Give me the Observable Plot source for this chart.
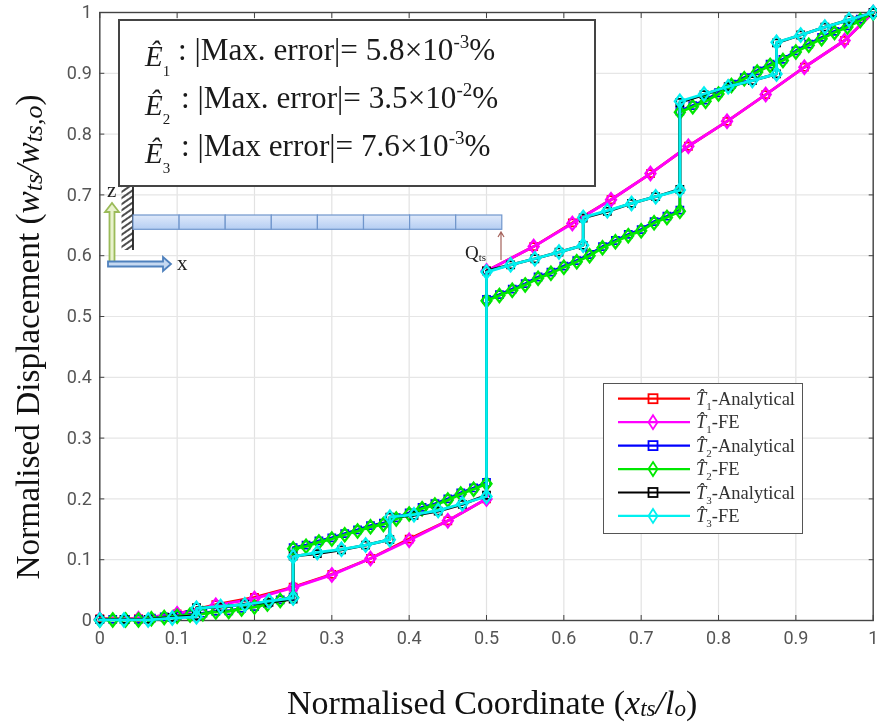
<!DOCTYPE html>
<html><head><meta charset="utf-8">
<script src="https://cdn.jsdelivr.net/npm/d3@7"></script>
<script src="https://cdn.jsdelivr.net/npm/@observablehq/plot@0.6"></script>
<style>
html,body{margin:0;padding:0;background:#fff;width:877px;height:726px;overflow:hidden}
#wrap{position:relative;width:877px;height:726px;overflow:hidden;filter:blur(.45px)}
.serif{font-family:"Liberation Serif",serif;color:#1a1a1a}
.abs{position:absolute;white-space:nowrap}
#errbox{left:118px;top:19px;width:474px;height:163.5px;border:2px solid #444;background:#fff}
#legend{left:603px;top:382.5px;width:198px;height:149px;border:1.5px solid #555;background:#fff}
.eq{font-size:31.2px;line-height:36px}
.eq sup{font-size:19px;line-height:0;vertical-align:baseline;position:relative;top:-12px}
.hat{font-style:italic;font-size:29px}
.hat sub{font-size:15px;font-style:normal;line-height:0;position:relative;top:3px;vertical-align:sub}
.lg{font-size:18.5px;line-height:20px;color:#333}
.lg sub{font-size:11px;line-height:0}
i sub{font-size:.78em;line-height:0;vertical-align:-0.1em}
.xl i sub{font-size:.68em}
</style></head><body><div id="wrap"></div>
<script>
const xT1 = [0,.05,.1,.15,.2,.25,.3,.35,.4,.45,.5,.5,.561,.611,.661,.712,.761,.811,.861,.911,.963,1];
const yT1Analytical = [.003,.003,.011,.026,.038,.055,.076,.102,.134,.164,.2,.575,.615,.654,.692,.735,.78,.821,.865,.91,.954,1];
const yT1FE = [.002,.003,.011,.025,.036,.054,.075,.102,.132,.164,.2,.575,.615,.653,.692,.735,.78,.821,.865,.91,.954,1];
const xT2 = [0,.0167,.0333,.05,.0667,.0833,.1,.1167,.1333,.15,.1667,.1833,.2,.2167,.2333,.25,
 .25,.2667,.2833,.3,.3167,.3333,.35,.3667,.3833,.4,.4167,.4333,.45,.4667,.4833,.5,
 .5,.5167,.5333,.55,.5667,.5833,.6,.6167,.6333,.65,.6667,.6833,.7,.7167,.7333,.75,
 .75,.7667,.7833,.8,.8167,.8333,.85,.8667,.8833,.9,.9167,.9333,.95,.9667,.9833,1];
const yT2Analytical = [.002,.002,.002,.002,.004,.006,.008,.010,.012,.015,.016,.02,.023,.028,.034,.039,
 .12,.124,.131,.136,.143,.149,.156,.16,.169,.177,.186,.192,.2,.21,.218,.227,
 .528,.536,.545,.554,.565,.573,.583,.592,.602,.615,.625,.635,.643,.656,.665,.675,
 .838,.847,.856,.868,.882,.893,.904,.915,.923,.937,.948,.959,.969,.978,.989,1];
const yT2FE = [.001,.001,.001,.001,.003,.005,.007,.009,.011,.014,.015,.019,.022,.027,.033,.038,
 .118,.122,.129,.134,.141,.147,.154,.158,.167,.175,.184,.19,.198,.208,.216,.225,
 .526,.5345,.543,.552,.563,.571,.581,.59,.6,.613,.623,.633,.641,.654,.663,.673,
 .836,.845,.854,.866,.88,.891,.902,.913,.921,.935,.946,.957,.967,.976,.987,.999];
const xT3 = [0,.03125,.0625,.09375,.125,.125,.15625,.1875,.21875,.25,.25,.28125,.3125,.34375,.375,.375,.40625,.4375,.46875,.5,
 .5,.53125,.5625,.59375,.625,.625,.65625,.6875,.71875,.75,.75,.78125,.8125,.84375,.875,.875,.90625,.9375,.96875,1];
const yT3Analytical = [.002,.002,.002,.005,.008,.021,.022,.027,.03,.035,.106,.11,.116,.124,.133,.17,.173,.18,.191,.206,
 .575,.585,.595,.606,.617,.662,.673,.686,.697,.709,.852,.865,.878,.888,.899,.95,.963,.976,.988,1];
const yT3FE = [.001,.001,.001,.004,.006,.02,.023,.026,.032,.037,.105,.112,.117,.124,.133,.17,.174,.181,.192,.204,
 .573,.585,.595,.606,.617,.663,.674,.686,.697,.708,.854,.866,.878,.888,.899,.951,.963,.976,.988,1];
const xTicks = [0,.1,.2,.3,.4,.5,.6,.7,.8,.9,1];
const yTicks = [0,.1,.2,.3,.4,.5,.6,.7,.8,.9,1];
const seriesList = [
 {name:"T1-Analytical",xs:xT1,ys:yT1Analytical,color:"#ff0000",symbol:"square"},
 {name:"T1-FE",xs:xT1,ys:yT1FE,color:"#ff00ff",symbol:"diamond"},
 {name:"T2-Analytical",xs:xT2,ys:yT2Analytical,color:"#0000ff",symbol:"square"},
 {name:"T2-FE",xs:xT2,ys:yT2FE,color:"#00e800",symbol:"diamond"},
 {name:"T3-Analytical",xs:xT3,ys:yT3Analytical,color:"#000000",symbol:"square"},
 {name:"T3-FE",xs:xT3,ys:yT3FE,color:"#00f0f0",symbol:"diamond"}
];
const tallDiamond = {draw(c,size){const r=Math.sqrt(size/Math.PI);const w=r*.76;c.moveTo(0,-r);c.lineTo(w,0);c.lineTo(0,r);c.lineTo(-w,0);c.closePath();}};
const fmt = d => String(d);
const marks = [
 Plot.gridX(xTicks,{stroke:"#e2e2e2",strokeOpacity:1,strokeWidth:1.2}),
 Plot.gridY(yTicks,{stroke:"#e6e6e6",strokeOpacity:1,strokeWidth:1.2}),
 Plot.axisX(xTicks,{anchor:"bottom",tickSize:-5,tickPadding:16,tickFormat:fmt,label:null,fontSize:18,stroke:"#444",color:"#555"}),
 Plot.axisX(xTicks,{anchor:"top",tickSize:-5,tickFormat:()=>"",label:null,stroke:"#444"}),
 Plot.axisY(yTicks,{anchor:"left",tickSize:-5,tickPadding:13,tickFormat:fmt,label:null,fontSize:18,stroke:"#444",color:"#555"}),
 Plot.axisY(yTicks,{anchor:"right",tickSize:-5,tickFormat:()=>"",label:null,stroke:"#444"}),
 Plot.frame({stroke:"#444",strokeWidth:1.4})
];
for(const s of seriesList){
 const rows = s.xs.map((x,i)=>({x,y:s.ys[i]}));
 marks.push(Plot.line(rows,{x:"x",y:"y",stroke:s.color,strokeWidth:2.8,curve:"linear",clip:false}));
 marks.push(Plot.dot(rows,{x:"x",y:"y",symbol:s.symbol==="square"?"square":tallDiamond,r:s.symbol==="square"?4:6.6,fill:"none",stroke:s.color,strokeWidth:s.symbol==="square"?1.7:2.3,clip:false}));
}
const chart = Plot.plot({
 width:877,height:726,marginLeft:99.3,marginRight:4.3,marginTop:12,marginBottom:106,
 x:{domain:[0,1],axis:null},y:{domain:[0,1],axis:null},
 style:{background:"transparent",fontFamily:"Roboto, 'Liberation Sans', sans-serif",overflow:"visible"},
 marks
});
chart.style.position="absolute";chart.style.left="0";chart.style.top="0";
const wrap=document.getElementById("wrap");
wrap.appendChild(chart);
const html=`
<div class="abs" id="errbox"></div>
<div class="abs serif eq" style="left:145px;top:38px"><span class="hat">&#202;<sub>1</sub></span></div>
<div class="abs serif eq" style="left:178px;top:31.5px">: |Max. error|= 5.8×10<sup>-3</sup>%</div>
<div class="abs serif eq" style="left:145px;top:86.5px"><span class="hat">&#202;<sub>2</sub></span></div>
<div class="abs serif eq" style="left:181px;top:80px">: |Max. error|= 3.5×10<sup>-2</sup>%</div>
<div class="abs serif eq" style="left:145px;top:135px"><span class="hat">&#202;<sub>3</sub></span></div>
<div class="abs serif eq" style="left:181px;top:128px">: |Max error|= 7.6×10<sup>-3</sup>%</div>
<svg class="abs" style="left:0;top:0;overflow:visible" width="877" height="726" font-family="Liberation Serif">
 <defs>
  <linearGradient id="bm" x1="0" y1="0" x2="0" y2="1"><stop offset="0" stop-color="#dfe9fa"/><stop offset="1" stop-color="#b4cdf2"/></linearGradient>
  <pattern id="hatch" width="5" height="5" patternUnits="userSpaceOnUse" patternTransform="rotate(-35)"><line x1="0" y1="2" x2="5" y2="2" stroke="#444" stroke-width="1.9"/></pattern>
 </defs>
 <rect x="121.5" y="187" width="11.5" height="63" fill="url(#hatch)"/>
 <line x1="133" y1="187" x2="133" y2="250" stroke="#222" stroke-width="1.8"/>
 <g stroke="#7096cc" stroke-width="1.2" fill="url(#bm)">
  ${[0,1,2,3,4,5,6,7].map(i=>`<rect x="${133+i*46.1}" y="215" width="46.1" height="14.3"/>`).join("")}
 </g>
 <path d="M109.5 262 V212 H105 L112 203 L119 212 H114.5 V262 Z" fill="#e8f2cc" stroke="#9bbb59" stroke-width="1.8"/>
 <path d="M108 261.5 H163 V257 L171 264 L163 271 V266.5 H108 Z" fill="#c6d9f1" stroke="#4f81bd" stroke-width="1.8"/>
 <path d="M501 260 V233 M498 237 L501 232 L504 237" fill="none" stroke="#a5635c" stroke-width="1.2"/>
 <text x="107" y="197" font-size="21" fill="#222">z</text>
 <text x="177" y="270" font-size="21" fill="#222">x</text>
 <text x="465" y="259" font-size="19" fill="#222">Q<tspan font-size="11" dy="2">ts</tspan></text>
</svg>
<div class="abs" id="legend"></div>
<svg class="abs" style="left:0;top:0;overflow:visible" width="877" height="726">
 ${seriesList.map((s,i)=>{const y=398.7+i*23.45;
   const m=s.symbol==="square"?`<rect x="648.5" y="${y-4.5}" width="9" height="9" fill="none" stroke="${s.color}" stroke-width="1.8"/>`:
   `<path d="M653 ${y-7} L657.5 ${y} L653 ${y+7} L648.5 ${y} Z" fill="none" stroke="${s.color}" stroke-width="1.8"/>`;
   return `<line x1="618" x2="690" y1="${y}" y2="${y}" stroke="${s.color}" stroke-width="2.2"/>`+m;}).join("")}
</svg>
${seriesList.map((s,i)=>{const y=398.7+i*23.45-10;const [a,b]=s.name.split("-");
  return `<div class="abs serif lg" style="left:696px;top:${y}px"><i>T&#770;</i><sub>${a[1]}</sub>-${b}</div>`}).join("")}
<div class="abs serif xl" style="left:287px;top:684px;font-size:34px;line-height:38px;color:#111">Normalised Coordinate (<i>x<sub>ts</sub>/l<sub>o</sub></i>)</div>
<div class="abs serif" style="left:28px;top:337px;font-size:33.3px;line-height:38px;color:#111;transform:translate(-50%,-50%) rotate(-90deg)">Normalised Displacement (<i>w<sub>ts</sub>/w<sub>ts,o</sub></i>)</div>
`;
wrap.insertAdjacentHTML("beforeend",html);
</script></body></html>
